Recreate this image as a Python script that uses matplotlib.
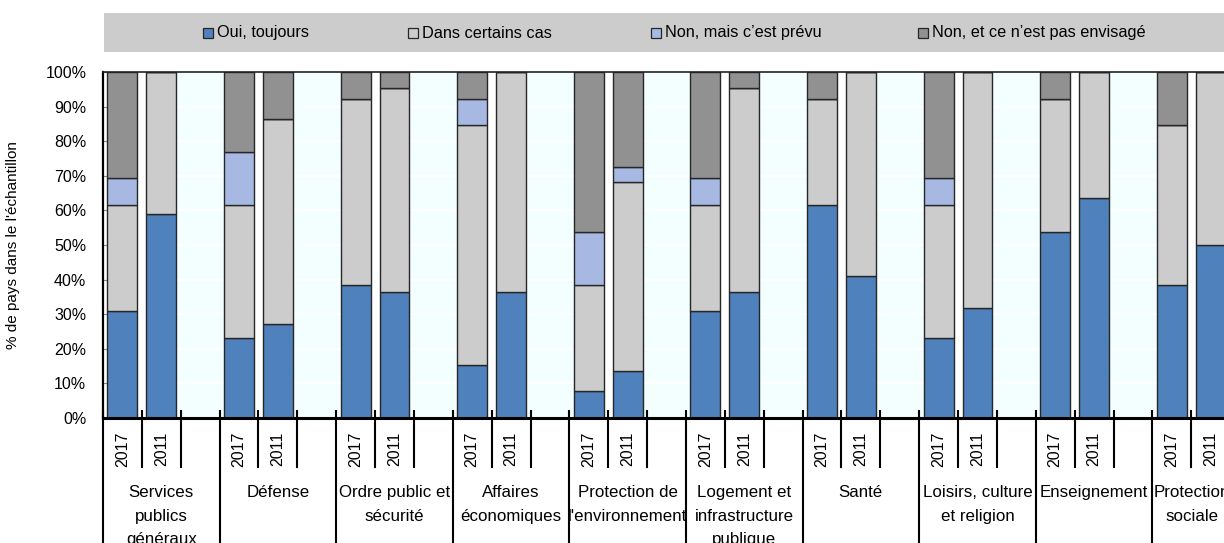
import matplotlib
matplotlib.use("Agg")
import matplotlib.pyplot as plt
from matplotlib.patches import Rectangle
from matplotlib.transforms import blended_transform_factory
import numpy as np

plt.rcParams['font.family'] = ['Liberation Sans', 'DejaVu Sans']

categories = [
    "Services\npublics\ngénéraux",
    "Défense",
    "Ordre public et\nsécurité",
    "Affaires\néconomiques",
    "Protection de\nl'environnement",
    "Logement et\ninfrastructure\npublique",
    "Santé",
    "Loisirs, culture\net religion",
    "Enseignement",
    "Protection\nsociale",
]
years = ["2017", "2011"]
series_names = [
    "Oui, toujours",
    "Dans certains cas",
    "Non, mais c’est prévu",
    "Non, et ce n’est pas envisagé",
]
series_colors = ["#4F81BD", "#CCCCCC", "#A7B9E3", "#919191"]

# Shares (%) per category, 2017 then 2011
oui_2017 = [30.8, 23.1, 38.5, 15.4, 7.7, 30.8, 61.5, 23.1, 53.8, 38.5]
oui_2011 = [59.1, 27.3, 36.4, 36.4, 13.6, 36.4, 40.9, 31.8, 63.6, 50.0]
cas_2017 = [30.8, 38.5, 53.8, 69.2, 30.8, 30.8, 30.8, 38.5, 38.5, 46.2]
cas_2011 = [40.9, 59.1, 59.1, 63.6, 54.5, 59.1, 59.1, 68.2, 36.4, 50.0]
prevu_2017 = [7.7, 15.4, 0.0, 7.7, 15.4, 7.7, 0.0, 7.7, 0.0, 0.0]
prevu_2011 = [0.0, 0.0, 0.0, 0.0, 4.5, 0.0, 0.0, 0.0, 0.0, 0.0]
non_2017 = [30.8, 23.1, 7.7, 7.7, 46.2, 30.8, 7.7, 30.8, 7.7, 15.4]
non_2011 = [0.0, 13.6, 4.5, 0.0, 27.3, 4.5, 0.0, 0.0, 0.0, 0.0]

series_2017 = [oui_2017, cas_2017, prevu_2017, non_2017]
series_2011 = [oui_2011, cas_2011, prevu_2011, non_2011]

W, H = 1224, 543
fig = plt.figure(figsize=(W / 100, H / 100), dpi=100)
ax = fig.add_axes([103 / W, 125 / H, 1166 / W, 346 / H])

n = len(categories)
slots = 3 * n
bar_w = 0.77
ax.set_xlim(0, slots)
ax.set_ylim(0, 100)
ax.set_facecolor("#F3FFFF")

# white gridlines
for v in range(10, 100, 10):
    ax.axhline(v, color="white", lw=1.6, zorder=0.5)

# white gaps between the two bars of each group
for g in range(n):
    x0 = 3 * g + 0.5 + bar_w / 2
    x1 = 3 * g + 1.5 - bar_w / 2
    ax.axvspan(x0, x1, color="white", zorder=0.6, lw=0)
ax.axvspan(0, 0.5 - bar_w / 2, color="white", zorder=0.6, lw=0)

x2017 = np.arange(n) * 3 + 0.5
x2011 = np.arange(n) * 3 + 1.5
for xs, data in ((x2017, series_2017), (x2011, series_2011)):
    bottom = np.zeros(n)
    for vals, col in zip(data, series_colors):
        vals = np.array(vals)
        ax.bar(xs, vals, bar_w, bottom=bottom, color=col,
               edgecolor="#262626", linewidth=1.0, zorder=2)
        bottom += vals

# axes styling
ax.set_yticks(np.arange(0, 101, 10))
ax.set_yticklabels([f"{v}%" for v in range(0, 101, 10)])
ax.tick_params(axis="y", direction="in", length=5, color="#8c8c8c",
               labelsize=11.5, pad=12)
ax.set_xticks(np.arange(0, slots + 1))
ax.set_xticklabels([])
ax.tick_params(axis="x", direction="in", length=6, width=1.5, color="black")
ax.spines["left"].set_linewidth(1.6)
ax.spines["bottom"].set_linewidth(2.2)
ax.spines["top"].set_linewidth(1.2)
ax.spines["top"].set_color("#222222")
ax.spines["right"].set_visible(False)

ax.set_ylabel("% de pays dans le l'échantillon", fontsize=11)
ax.yaxis.set_label_coords(-83 / 1166, 0.5)

# multi-level category axis below the plot
tr = blended_transform_factory(ax.transData, ax.transAxes)
short = -49 / 346
long_ = -126 / 346
for s in range(slots + 1):
    if s % 3 == 0:
        ax.plot([s, s], [0, long_], color="black", lw=1.5, transform=tr,
                clip_on=False, zorder=5)
    else:
        ax.plot([s, s], [0, short], color="black", lw=1.5, transform=tr,
                clip_on=False, zorder=5)

for g in range(n):
    for k, yr in enumerate(years):
        ax.text(3 * g + 0.5 + k, -31 / 346, yr, rotation=90, ha="center",
                va="center", fontsize=11.5, transform=tr)
    if g == n - 1:
        # last group sits at the right edge: align its label to the group start
        ax.text(3 * g + 0.03, -67 / 346, categories[g], ha="left", va="top",
                multialignment="center", fontsize=12.2, linespacing=1.72,
                transform=tr)
    else:
        ax.text(3 * g + 1.5, -67 / 346, categories[g], ha="center", va="top",
                fontsize=12.2, linespacing=1.72, transform=tr)

# legend band
fig.patches.append(Rectangle((104 / W, (H - 52) / H), (W - 104) / W, 39 / H,
                             transform=fig.transFigure, facecolor="#CCCCCC",
                             edgecolor="none", zorder=0))
marker_x = [203, 408, 651, 918]
for name, col, mx in zip(series_names, series_colors, marker_x):
    fig.patches.append(Rectangle((mx / W, (H - 38) / H), 10 / W, 10 / H,
                                 transform=fig.transFigure, facecolor=col,
                                 edgecolor="#262626", linewidth=0.9, zorder=1))
    fig.text((mx + 14) / W, (H - 33) / H, name, ha="left", va="center",
             fontsize=11.7)

fig.savefig("out.png", dpi=100)
